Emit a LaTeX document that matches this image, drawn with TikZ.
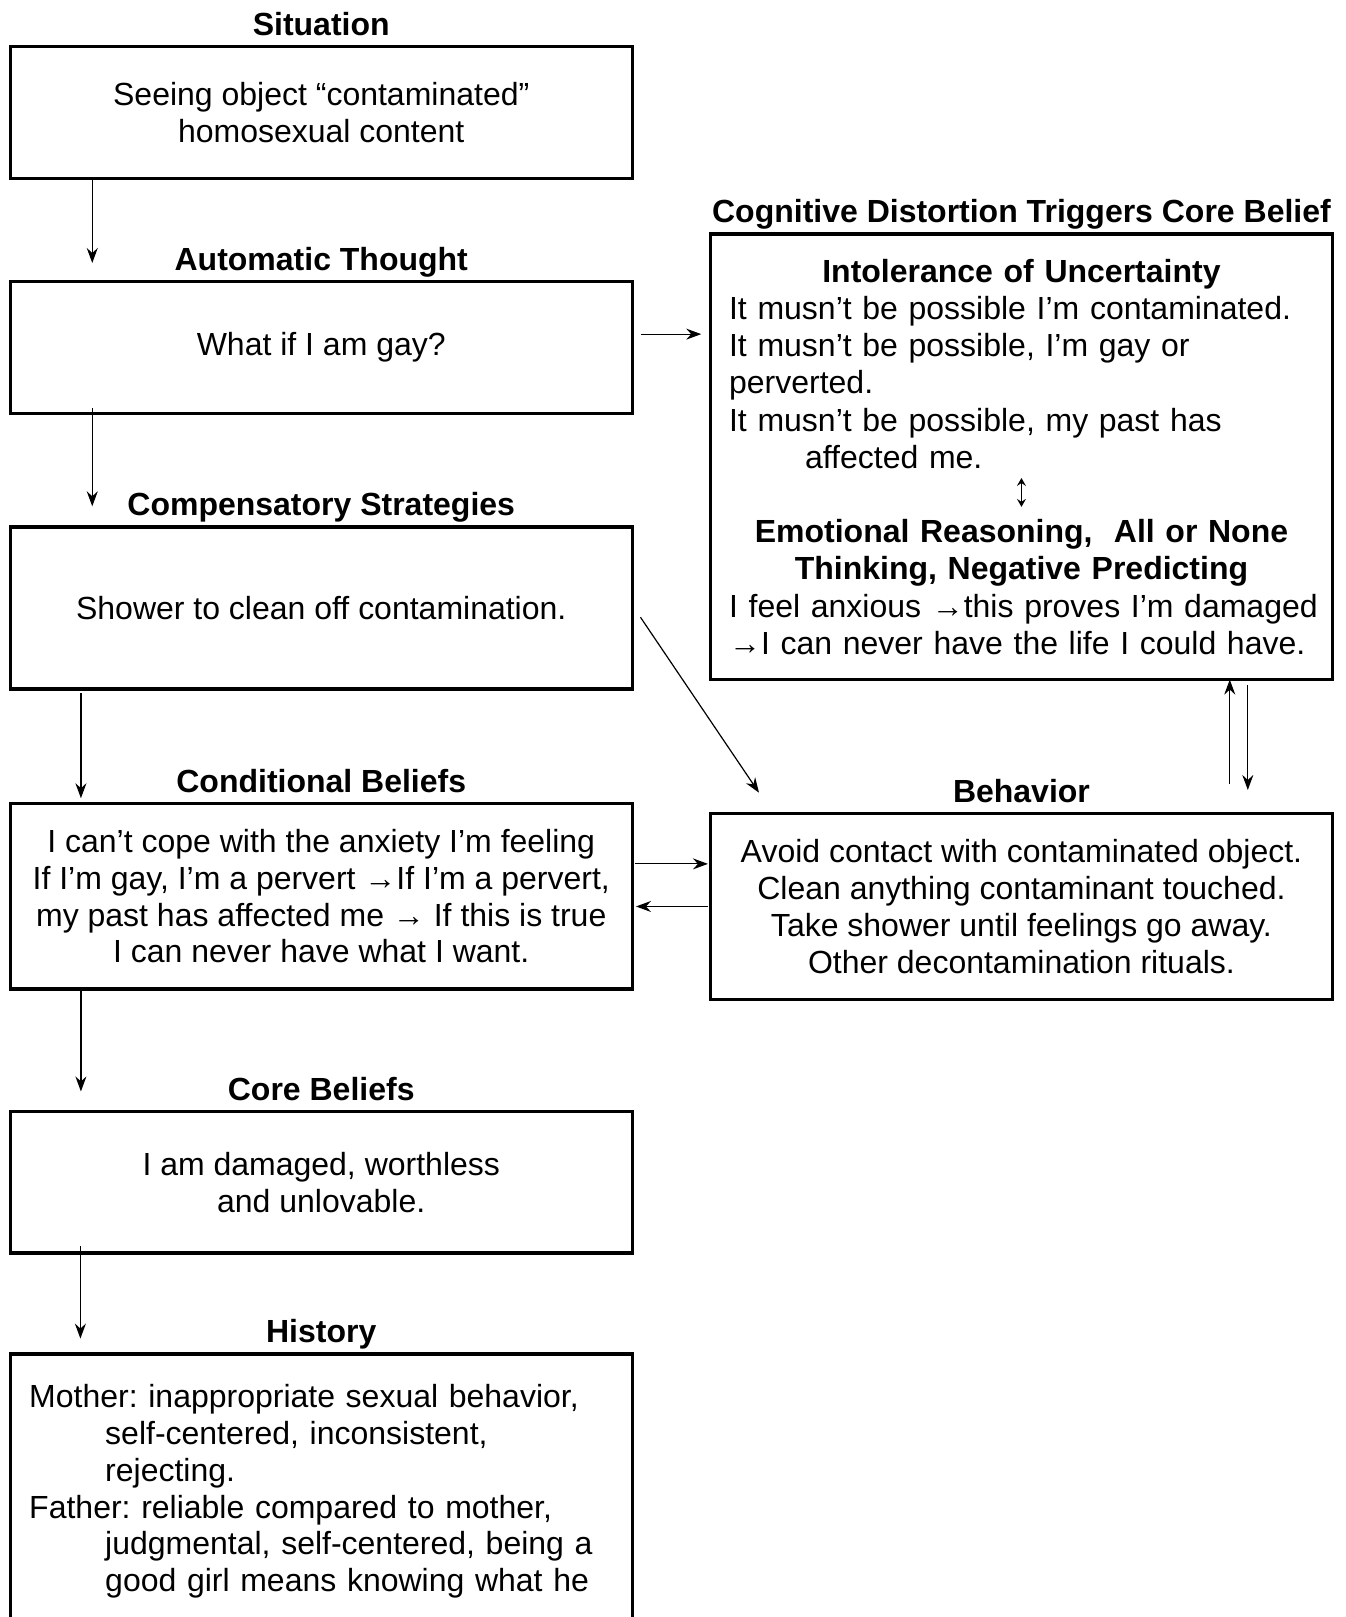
\documentclass[tikz,border=0pt]{standalone}
\usepackage{fontspec}
\setmainfont{Liberation Sans}
\usetikzlibrary{calc,arrows.meta}
\newcommand{\boxfont}{\fontsize{16pt}{18.4pt}\selectfont\frenchspacing}
\tikzset{
  box/.style={
    draw=black,
    line width=1.6pt,
    minimum width=311pt,
    inner sep=0pt,
    outer sep=0pt,
    align=center,
    font=\boxfont
  },
  heading/.style={anchor=base, inner sep=0pt, font=\boxfont\bfseries},
  link/.style={line width=0.6pt, -{Stealth[length=7.5pt,width=5.5pt,inset=2.5pt]}},
  twoway/.style={line width=0.6pt, {Stealth[length=4pt,width=4.5pt,inset=1.5pt]}-{Stealth[length=4pt,width=4.5pt,inset=1.5pt]}}
}

\begin{document}
\begin{tikzpicture}[x=0.5157pt, y=-0.5157pt]
  \useasboundingbox (0,0) rectangle (1305,1568);
  \clip (0,0) rectangle (1305,1568);

  % Left column
  \node[box, minimum height=66pt] (sitbox) at (311.5,109)
    {Seeing object “contaminated”\\homosexual content};
  \node[box, minimum height=66pt] (autobox) at (311.5,337)
    {What if I am gay?};
  \node[box, minimum height=81pt] (compbox) at (311.5,589.5)
    {Shower to clean off contamination.};
  \node[box, minimum height=92.8pt] (condbox) at (311.5,869)
    {I can’t cope with the anxiety I’m feeling\\
     If I’m gay, I’m a pervert →If I’m a pervert,\\
     my past has affected me → If this is true\\
     I can never have what I want.};
  \node[box, minimum height=70.7pt] (corebox) at (311.5,1146.5)
    {I am damaged, worthless\\and unlovable.};
  \node[box, minimum height=160pt, anchor=north] (histbox) at (311.5,1313) {};
  \node[anchor=base west, inner sep=0pt, text width=290pt, font=\boxfont]
    (histtext) at ($(histbox.north west)+(18,52)$)
    {\raggedright
     \mbox{Mother: inappropriate sexual behavior,}\\
     \hspace*{38pt}self-centered, inconsistent,\\
     \hspace*{38pt}rejecting.\\
     \mbox{Father: reliable compared to mother,}\\
     \hspace*{38pt}\mbox{judgmental, self-centered, being a}\\
     \hspace*{38pt}\mbox{good girl means knowing what he}};

  % Right column
  \node[box, minimum height=222.8pt, text width=292.4pt,
        font=\fontsize{16pt}{18.6pt}\selectfont\frenchspacing] (cogbox) at (990.5,443)
    {{\centering\bfseries Intolerance of Uncertainty\par}
     \raggedright
     \mbox{It musn’t be possible I’m contaminated.}\\
     \mbox{It musn’t be possible, I’m gay or}\\
     perverted.\\
     \mbox{It musn’t be possible, my past has}\\
     \hspace*{38pt}affected me.\par
     \mbox{}\par
     {\centering\bfseries Emotional Reasoning,\ \ All or None\\
      Thinking, Negative Predicting\par}
     \mbox{I feel anxious →this proves I’m damaged}\\
     \mbox{→I can never have the life I could have.}\par};
  \node[box, minimum height=92.8pt] (behbox) at (990.5,879)
    {Avoid contact with contaminated object.\\
     Clean anything contaminant touched.\\
     Take shower until feelings go away.\\
     Other decontamination rituals.};

  % Headings
  \node[heading] (sittitle)  at ($(sitbox.north)+(0,-11)$)  {Situation};
  \node[heading] (autotitle) at ($(autobox.north)+(0,-11)$) {Automatic Thought};
  \node[heading] (comptitle) at ($(compbox.north)+(0,-11)$) {Compensatory Strategies};
  \node[heading] (condtitle) at ($(condbox.north)+(0,-11)$) {Conditional Beliefs};
  \node[heading] (coretitle) at ($(corebox.north)+(0,-11)$) {Core Beliefs};
  \node[heading] (histtitle) at ($(histbox.north)+(0,-11)$) {History};
  \node[heading] (cogtitle)  at ($(cogbox.north)+(0,-11)$)  {Cognitive Distortion Triggers Core Belief};
  \node[heading] (behtitle)  at ($(behbox.north)+(0,-11)$)  {Behavior};

  % Small two-way arrow inside the distortion box
  \draw[twoway] ($(cogbox.center)+(0,20.5)$) -- ($(cogbox.center)+(0,48.5)$);

  % Downward chain
  \draw[link] ($(sitbox.south west)+(79.5,0)$)  -- ($(autobox.north west)+(79.5,-18)$);
  \draw[link] ($(autobox.south west)+(79.5,-5)$) -- ($(compbox.north west)+(79.5,-20)$);
  \draw[link] ($(compbox.south west)+(68.5,4)$) -- ($(condbox.north west)+(68.5,-5)$);
  \draw[link] ($(condbox.south west)+(68.5,1)$) -- ($(corebox.north west)+(68.5,-19.6)$);
  \draw[link] ($(corebox.south west)+(68,-7)$)  -- ($(histbox.north west)+(68,-15)$);

  % Across
  \draw[link] ($(autobox.east)+(8.5,-13)$) -- ($(autobox.east -| cogbox.west)+(-9,-13)$);
  \draw[link] ($(compbox.east)+(8,9)$) -- ($(behbox.north west)+(47,-20.4)$);
  \draw[link] ($(condbox.east)+(2.7,-31.3)$) -- ($(condbox.east -| behbox.west)+(-2.5,-31.3)$);
  \draw[link] ($(behbox.west)+(-2.5,0)$) -- ($(behbox.west -| condbox.east)+(3.7,0)$);
  \draw[link] ($(behbox.north)+(202,-29)$) -- ($(cogbox.south)+(202,0)$);
  \draw[link] ($(cogbox.south)+(219.5,5)$) -- ($(behbox.north)+(219.5,-23)$);
\end{tikzpicture}
\end{document}
